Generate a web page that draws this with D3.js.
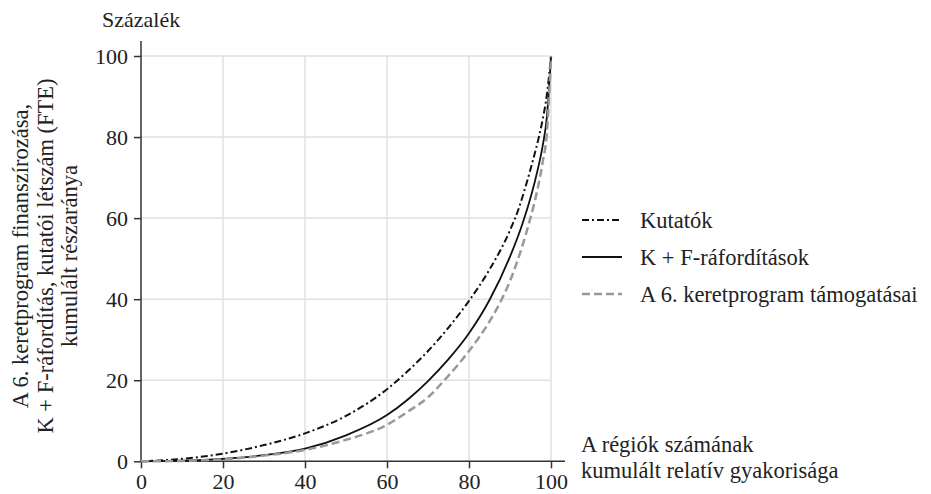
<!DOCTYPE html>
<html>
<head>
<meta charset="utf-8">
<script src="https://cdn.jsdelivr.net/npm/d3@7"></script>
<style>
  body { margin: 0; background: #fff; }
  svg { display: block; font-family: "Liberation Serif", "DejaVu Serif", serif; }
</style>
</head>
<body>
<svg id="chart" width="931" height="494"></svg>
<script>
const TICKS = [0, 20, 40, 60, 80, 100];

// cumulative share of regions (%) -> cumulative share of each measure (%)
const kutatokX = [0, 10, 20, 30, 40, 50, 60, 65, 70, 75, 80, 85, 90, 92, 94, 96, 97, 98, 99, 100];
const kutatokY = [0, 0.6, 1.9, 4, 6.9, 11.2, 17.8, 22.2, 27.2, 33, 39.6, 47.3, 57, 62, 68.5, 75.8, 79.8, 84.5, 90.5, 100];

const kfX = [0, 10, 20, 30, 40, 50, 60, 65, 70, 75, 80, 85, 90, 93, 95, 96, 97, 98, 99, 100];
const kfY = [0, 0.15, 0.6, 1.5, 3.1, 6.4, 11.4, 15.2, 19.8, 25.2, 31.6, 39.8, 50.5, 58.5, 65, 68.8, 73, 78, 85, 100];

const fp6X = [0, 10, 20, 30, 40, 50, 60, 65, 70, 74, 80, 85, 88, 90, 92, 94, 96, 97, 98, 99, 100];
const fp6Y = [0, 0.1, 0.5, 1.4, 2.8, 5.3, 9, 12.2, 15.8, 20, 27.2, 34.5, 40, 44.5, 50, 56.5, 64, 68.5, 74, 81, 100];

const series = [
  { name: "Kutatók", xs: kutatokX, ys: kutatokY, color: "#111", width: 2, dash: "7,3,2,3" },
  { name: "K + F-ráfordítások", xs: kfX, ys: kfY, color: "#111", width: 1.8, dash: null },
  { name: "A 6. keretprogram támogatásai", xs: fp6X, ys: fp6Y, color: "#999", width: 2.5, dash: "8,4" }
];

const svg = d3.select("#chart");
const x = d3.scaleLinear().domain([0, 100]).range([141, 551]);
const y = d3.scaleLinear().domain([0, 100]).range([461.3, 56]);

// grid
svg.append("g").selectAll("line")
  .data(TICKS.slice(1))
  .join("line")
    .attr("x1", d => x(d)).attr("x2", d => x(d))
    .attr("y1", y(0)).attr("y2", y(100))
    .attr("stroke", "#e0e0e0").attr("stroke-width", 1.5);
svg.append("g").selectAll("line")
  .data(TICKS.slice(1))
  .join("line")
    .attr("x1", x(0)).attr("x2", x(100))
    .attr("y1", d => y(d)).attr("y2", d => y(d))
    .attr("stroke", "#e0e0e0").attr("stroke-width", 1.5);

// axes
const yAxis = svg.append("g")
  .attr("transform", `translate(${x(0)},0)`)
  .call(d3.axisLeft(y).tickValues(TICKS).tickSize(7).tickPadding(6).tickSizeOuter(0));
const xAxis = svg.append("g")
  .attr("transform", `translate(0,${y(0)})`)
  .call(d3.axisBottom(x).tickValues(TICKS).tickSize(7).tickPadding(5).tickSizeOuter(0));

[yAxis, xAxis].forEach(a => {
  a.select(".domain").remove();
  a.selectAll(".tick line").attr("stroke", "#333").attr("stroke-width", 1.5);
  a.selectAll(".tick text")
    .attr("fill", "#222")
    .style("font-family", "Liberation Serif, serif")
    .style("font-size", "22px");
});

svg.append("line")
  .attr("x1", x(0)).attr("x2", x(0))
  .attr("y1", 41).attr("y2", y(0))
  .attr("stroke", "#333").attr("stroke-width", 1.5);
svg.append("line")
  .attr("x1", x(0)).attr("x2", 565)
  .attr("y1", y(0)).attr("y2", y(0))
  .attr("stroke", "#333").attr("stroke-width", 1.5);

// curves
const line = d3.line().curve(d3.curveMonotoneX);
svg.append("g").selectAll("path")
  .data(series)
  .join("path")
    .attr("d", s => line(s.xs.map((v, i) => [x(v), y(s.ys[i])])))
    .attr("fill", "none")
    .attr("stroke", s => s.color)
    .attr("stroke-width", s => s.width)
    .attr("stroke-dasharray", s => s.dash);

// legend
const legend = svg.append("g").selectAll("g")
  .data(series)
  .join("g")
    .attr("transform", (d, i) => `translate(582,${220 + i * 37})`);
legend.append("line")
  .attr("x1", 0).attr("x2", 40)
  .attr("stroke", d => d.color)
  .attr("stroke-width", d => d.width)
  .attr("stroke-dasharray", d => d.dash);
legend.append("text")
  .attr("x", 58).attr("dy", "0.35em")
  .attr("fill", "#222")
  .style("font-size", "22.5px")
  .text(d => d.name);

// titles
svg.append("text")
  .attr("x", 102).attr("y", 27)
  .attr("fill", "#222").style("font-size", "22px")
  .text("Százalék");

const yTitle = svg.append("text")
  .attr("transform", `translate(0,256) rotate(-90)`)
  .attr("text-anchor", "middle")
  .attr("fill", "#222").style("font-size", "22.5px");
["A 6. keretprogram finanszírozása,", "K + F-ráfordítás, kutatói létszám (FTE)", "kumulált részaránya"]
  .forEach((t, i) => yTitle.append("tspan").attr("x", 0).attr("y", 28 + i * 24.5).text(t));

const xTitle = svg.append("text")
  .attr("fill", "#222").style("font-size", "22.5px");
["A régiók számának", "kumulált relatív gyakorisága"]
  .forEach((t, i) => xTitle.append("tspan").attr("x", 581).attr("y", 452 + i * 26).text(t));
</script>
</body>
</html>
